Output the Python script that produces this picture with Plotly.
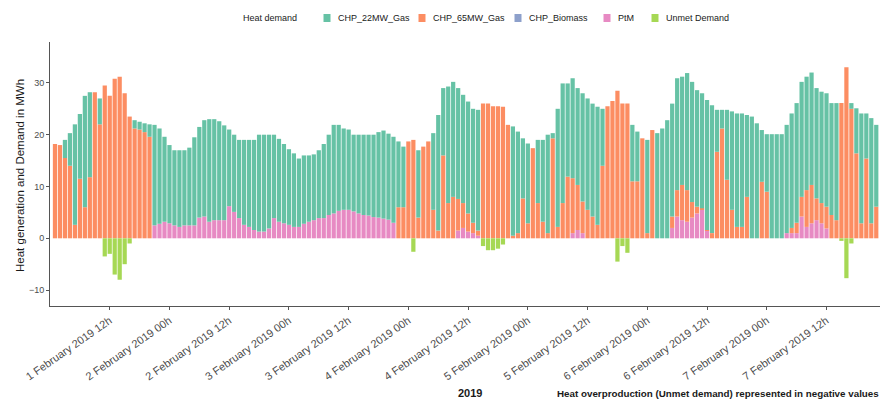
import pandas as pd
import plotly.graph_objects as go

# Hourly dispatch, 1 Feb 2019 01h onwards (MWh per hour)
hours = pd.date_range("2019-02-01 01:00", periods=166, freq="h")

chp_22mw_gas = [
    0, 0, 3.5, 6.3, 19.4, 12.5, 21.5, 16.4, 0, 5.0,
    0, 0, 0, 0, 0, 0, 1.6, 1.5, 1.7, 2.4,
    19.4, 18.4, 16.4, 15.1, 14.5, 14.8, 14.5, 15.0, 17.0, 17.5,
    18.6, 19.8, 19.5, 19.1, 18.3, 14.8, 14.9, 15.1, 16.4, 16.8,
    17.4, 18.7, 18.7, 18.1, 16.1, 16.0, 15.3, 14.6, 14.2, 13.2,
    13.2, 12.8, 12.7, 13.1, 14.3, 15.5, 17.1, 16.6, 15.7, 15.5,
    14.8, 15.2, 15.5, 15.6, 15.9, 16.5, 17.0, 16.6, 16.6, 12.7,
    11.7, 0, 0, 13.0, 0, 0, 14.8, 22.3, 13.0, 22.5,
    22.2, 21.4, 20.9, 21.6, 22.0, 23.3, 0, 0, 0, 0,
    0, 0, 21.1, 19.6, 11.6, 15.4, 0, 12.2, 15.8, 19.0,
    1.0, 22.8, 23.1, 18.0, 19.3, 18.7, 20.9, 21.5, 21.8, 22.8,
    11.0, 0, 0, 0, 0, 0, 10.9, 9.6, 0, 18.0,
    0, 20.3, 21.2, 22.8, 21.8, 21.6, 20.9, 22.6, 23.2, 22.5,
    22.2, 25.1, 24.7, 8.1, 3.6, 13.5, 19.0, 21.9, 21.9, 15.8,
    23.5, 22.2, 10.0, 11.1, 20.1, 20.1, 20.1, 20.9, 22.1, 23.1,
    22.2, 21.9, 21.7, 21.3, 21.5, 21.9, 21.6, 22.6, 0, 0,
    1.1, 8.7, 21.2, 8.7, 20.3, 15.8,
]

chp_65mw_gas = [
    18.2, 18.0, 15.5, 14.0, 2.6, 11.5, 6.0, 11.8, 28.2, 22.0,
    29.5, 27.5, 30.8, 31.2, 28.0, 23.5, 21.2, 21.0, 20.5, 19.6,
    0, 0, 0, 0, 0, 0, 0, 0, 0, 0,
    0, 0, 0, 0, 0, 0, 0, 0, 0, 0,
    0, 0, 0, 0, 0, 0, 0, 0, 0, 0,
    0, 0, 0, 0, 0, 0, 0, 0, 0, 0,
    0, 0, 0, 0, 0, 0, 0, 0, 0, 6.0,
    6.0, 18.7, 19.0, 4.0, 17.7, 18.7, 5.5, 1.5, 16.0, 6.8,
    8.0, 6.1, 4.8, 3.5, 2.0, 1.0, 26.0, 26.0, 25.5, 25.5,
    25.4, 21.9, 0.5, 1.0, 7.7, 2.9, 17.4, 6.8, 3.2, 1.0,
    19.3, 2.2, 6.8, 11.9, 10.6, 8.7, 6.1, 5.5, 4.2, 2.6,
    14.0, 25.5, 26.5, 28.5, 26.0, 26.0, 11.0, 11.0, 19.3, 1.0,
    20.9, 0, 0, 0, 2.2, 5.1, 6.8, 6.1, 3.0, 1.3,
    0.3, 0.1, 1.0, 16.7, 21.2, 11.3, 5.5, 2.2, 2.2, 8.0,
    0, 0, 10.9, 9.0, 0, 0, 0, 0, 1.0, 2.0,
    3.8, 7.1, 7.4, 4.2, 3.9, 4.2, 4.5, 3.5, 26.1, 33.0,
    25.0, 16.4, 2.9, 15.4, 2.9, 6.1,
]

chp_biomass = [0.0] * len(hours)

ptm = [
    0, 0, 0, 0, 0, 0, 0, 0, 0, 0,
    0, 0, 0, 0, 0, 0, 0, 0, 0, 0,
    2.5, 2.8, 3.2, 2.9, 2.5, 2.2, 2.5, 2.5, 2.5, 4.0,
    4.2, 3.2, 3.5, 3.5, 3.5, 6.2, 5.1, 3.9, 2.6, 2.2,
    1.6, 1.3, 1.3, 1.9, 3.9, 3.2, 2.9, 2.6, 2.2, 2.2,
    2.8, 3.2, 3.5, 3.9, 3.9, 4.5, 4.8, 5.3, 5.5, 5.5,
    5.2, 4.8, 4.5, 4.4, 4.1, 4.0, 3.8, 3.6, 3.0, 0,
    0, 0, 0, 0, 0, 0, 0, 0, 0, 0,
    0, 1.5, 2.0, 1.3, 1.0, 0.5, 0, 0, 0, 0,
    0, 0, 0, 0, 0, 0, 0, 0, 0, 0,
    0, 0, 0, 0, 1.0, 1.6, 1.0, 0, 0, 0,
    0, 0, 0, 0, 0, 0, 0, 0, 0, 0,
    0, 0, 0, 0, 2.0, 4.2, 3.5, 3.2, 4.0, 4.8,
    5.5, 1.5, 0, 0, 0, 0, 0, 0, 0, 0,
    0, 0, 0, 0, 0, 0, 0, 1.0, 1.0, 1.0,
    4.2, 2.2, 2.9, 3.5, 2.9, 1.9, 0, 0, 0, 0,
    0, 0, 0, 0, 0, 0,
]

unmet_demand = [
    0, 0, 0, 0, 0, 0, 0, 0, 0, 0,
    -3.5, -3.0, -7.0, -8.0, -5.0, -1.0, 0, 0, 0, 0,
    0, 0, 0, 0, 0, 0, 0, 0, 0, 0,
    0, 0, 0, 0, 0, 0, 0, 0, 0, 0,
    0, 0, 0, 0, 0, 0, 0, 0, 0, 0,
    0, 0, 0, 0, 0, 0, 0, 0, 0, 0,
    0, 0, 0, 0, 0, 0, 0, 0, 0, 0,
    0, 0, -2.6, 0, 0, 0, 0, 0, 0, 0,
    0, 0, 0, 0, 0, 0, -1.5, -2.3, -2.3, -2.0,
    -1.2, 0, 0, 0, 0, 0, 0, 0, 0, 0,
    0, 0, 0, 0, 0, 0, 0, 0, 0, 0,
    0, 0, 0, -4.5, -1.5, -2.8, 0, 0, 0, 0,
    0, 0, 0, 0, 0, 0, 0, 0, 0, 0,
    0, 0, 0, 0, 0, 0, 0, 0, 0, 0,
    0, 0, 0, 0, 0, 0, 0, 0, 0, 0,
    0, 0, 0, 0, 0, 0, 0, 0, -0.5, -7.7,
    -1.0, 0, 0, 0, 0, 0,
]

tick_times = pd.date_range("2019-02-01 12:00", periods=13, freq="12h")
tick_labels = [
    "1 February 2019 12h", "2 February 2019 00h", "2 February 2019 12h",
    "3 February 2019 00h", "3 February 2019 12h", "4 February 2019 00h",
    "4 February 2019 12h", "5 February 2019 00h", "5 February 2019 12h",
    "6 February 2019 00h", "6 February 2019 12h", "7 February 2019 00h",
    "7 February 2019 12h",
]
y_ticks = [-10, 0, 10, 20, 30]

series = [
    ("CHP_22MW_Gas", chp_22mw_gas, "#66C2A5"),
    ("CHP_65MW_Gas", chp_65mw_gas, "#FC8D62"),
    ("CHP_Biomass", chp_biomass, "#8DA0CB"),
    ("PtM", ptm, "#E78AC3"),
    ("Unmet Demand", unmet_demand, "#A6D854"),
]

W, H = 888, 404
L, R, T, B = 50, 880, 42, 306
FONT = "Liberation Sans, Arial, Helvetica, sans-serif"

fig = go.Figure()
# stacking order bottom-up: PtM, Biomass, 65MW, 22MW; unmet goes below zero
for name, vals, col in [series[3], series[2], series[1], series[0], series[4]]:
    fig.add_trace(go.Bar(
        x=hours, y=vals, name=name, marker=dict(color=col, line=dict(width=0)),
        showlegend=False,
    ))


def px_x(px):
    return (px - L) / (R - L)


def px_y(py):
    return (B - py) / (B - T)


# legend row
legend_y = 18
fig.add_annotation(text="Heat demand", x=px_x(241), y=px_y(legend_y), xref="paper", yref="paper",
                   xanchor="left", yanchor="middle", showarrow=False,
                   font=dict(family=FONT, size=9, color="#1a1a1a"))
key_x = [327, 422, 518, 607, 655]
for (name, _, col), kx in zip(series, key_x):
    fig.add_shape(type="rect", xref="paper", yref="paper",
                  x0=px_x(kx - 3.5), x1=px_x(kx + 3.5),
                  y0=px_y(legend_y + 4), y1=px_y(legend_y - 4),
                  fillcolor=col, line=dict(width=0))
    fig.add_annotation(text=name, x=px_x(kx + 9), y=px_y(legend_y), xref="paper", yref="paper",
                       xanchor="left", yanchor="middle", showarrow=False,
                       font=dict(family=FONT, size=9, color="#1a1a1a"))

# axis titles and caption
fig.add_annotation(text="Heat generation and Demand in MWh", textangle=-90,
                   x=px_x(20), y=px_y(176), xref="paper", yref="paper",
                   xanchor="center", yanchor="middle", showarrow=False,
                   font=dict(family=FONT, size=11.5, color="#1a1a1a"))
fig.add_annotation(text="<b>2019</b>", x=px_x(470), y=px_y(393), xref="paper", yref="paper",
                   xanchor="center", yanchor="middle", showarrow=False,
                   font=dict(family=FONT, size=11, color="#1a1a1a"))
fig.add_annotation(text="<b>Heat overproduction (Unmet demand) represented in negative values</b>",
                   x=px_x(881), y=px_y(393), xref="paper", yref="paper",
                   xanchor="right", yanchor="middle", showarrow=False,
                   font=dict(family=FONT, size=9.8, color="#1a1a1a"))

y_bottom = -13.07
y_top = y_bottom + (B - T) / 5.18

fig.update_layout(
    width=W, height=H,
    margin=dict(l=L, r=W - R, t=T, b=H - B),
    paper_bgcolor="white", plot_bgcolor="white",
    barmode="relative", bargap=0.15,
    font=dict(family=FONT),
    xaxis=dict(
        type="date",
        range=["2019-02-01 00:00", "2019-02-07 22:45"],
        tickmode="array", tickvals=tick_times, ticktext=tick_labels,
        tickangle=-35, tickfont=dict(size=11, color="#4d4d4d"),
        showgrid=False, zeroline=False,
        showline=True, linecolor="#555555", linewidth=1,
        ticks="outside", ticklen=3, tickcolor="#555555",
    ),
    yaxis=dict(
        range=[y_bottom, y_top],
        tickmode="array", tickvals=y_ticks,
        tickfont=dict(size=9, color="#4d4d4d"),
        showgrid=False, zeroline=False,
        showline=True, linecolor="#555555", linewidth=1,
        ticks="outside", ticklen=3, tickcolor="#555555",
    ),
)

fig.write_html("out.html")
